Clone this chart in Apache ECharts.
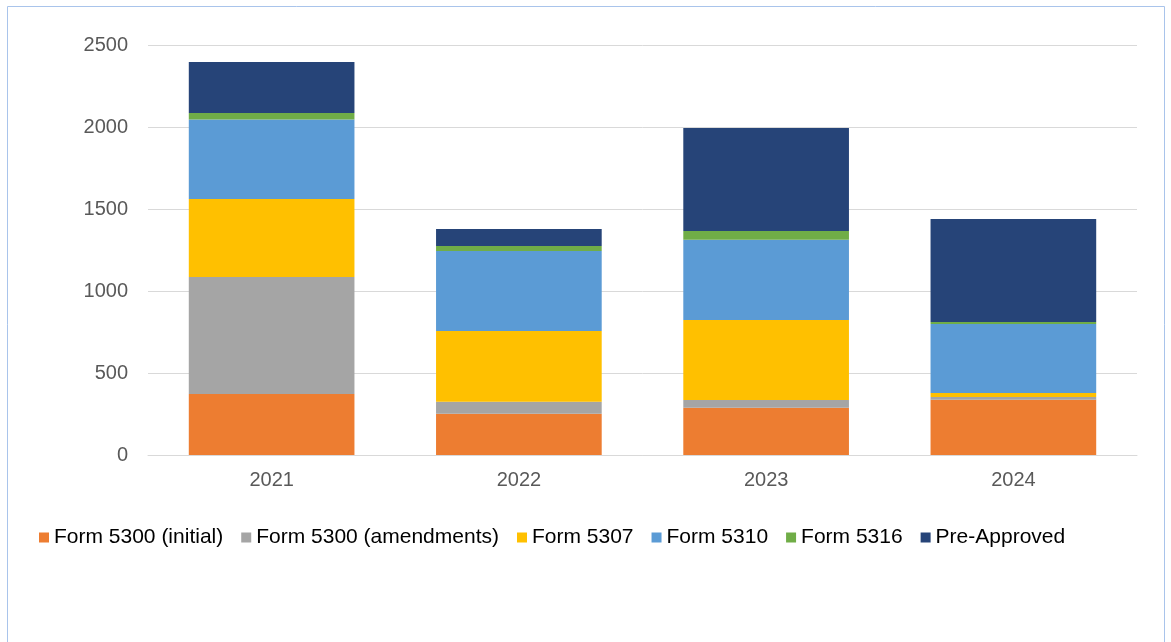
<!DOCTYPE html>
<html>
<head>
<meta charset="utf-8">
<script src="https://cdn.jsdelivr.net/npm/echarts@6/dist/echarts.min.js"></script>
<style>
html,body{margin:0;padding:0;background:#fff;}
#chart{width:1171px;height:642px;}
</style>
</head>
<body>
<div id="chart"></div>
<script>
var categories = ['2021', '2022', '2023', '2024'];
var form5300Initial = [372, 252, 288, 337];
var form5300Amend = [713, 73, 47, 17];
var form5307 = [476, 431, 488, 24];
var form5310 = [484, 488, 490, 421];
var form5316 = [40, 30, 53, 12];
var preApproved = [311, 104, 628, 628];
var yTicks = [0, 500, 1000, 1500, 2000, 2500];

var seriesDefs = [
  {name: 'Form 5300 (initial)', data: form5300Initial, color: '#ED7D31'},
  {name: 'Form 5300 (amendments)', data: form5300Amend, color: '#A5A5A5'},
  {name: 'Form 5307', data: form5307, color: '#FFC000'},
  {name: 'Form 5310', data: form5310, color: '#5B9BD5'},
  {name: 'Form 5316', data: form5316, color: '#70AD47'},
  {name: 'Pre-Approved', data: preApproved, color: '#264478'}
];

var chart = echarts.init(document.getElementById('chart'), null, {renderer: 'canvas'});
var font = 'Liberation Sans, Arial, sans-serif';
chart.setOption({
  animation: false,
  backgroundColor: '#fff',
  graphic: [{
    type: 'rect',
    shape: {x: 7.5, y: 6.5, width: 1157, height: 700},
    style: {fill: 'none', stroke: '#A9C4EB', lineWidth: 1},
    silent: true
  }],
  grid: {left: 148, right: 34, top: 45, bottom: 187, containLabel: false},
  legend: {
    left: 34, top: 522,
    icon: 'rect', itemWidth: 10, itemHeight: 10, itemGap: 18,
    textStyle: {fontFamily: font, fontSize: 21, color: '#000'},
    data: seriesDefs.map(function(s){return s.name;})
  },
  xAxis: {
    type: 'category',
    data: categories,
    axisLine: {show: true, lineStyle: {color: '#D9D9D9', width: 1}},
    axisTick: {show: false},
    axisLabel: {fontFamily: font, fontSize: 20, color: '#595959', margin: 15}
  },
  yAxis: {
    type: 'value',
    min: yTicks[0], max: yTicks[yTicks.length - 1], interval: 500,
    axisLine: {show: false},
    axisTick: {show: false},
    splitLine: {lineStyle: {color: '#D9D9D9', width: 1}},
    axisLabel: {fontFamily: font, fontSize: 20, color: '#595959', margin: 20,
      formatter: function(v){ return String(v); }}
  },
  series: seriesDefs.map(function(s){
    return {
      name: s.name, type: 'bar', stack: 'total',
      data: s.data,
      barCategoryGap: '33%',
      itemStyle: {color: s.color},
      emphasis: {disabled: true}
    };
  })
});
</script>
</body>
</html>
